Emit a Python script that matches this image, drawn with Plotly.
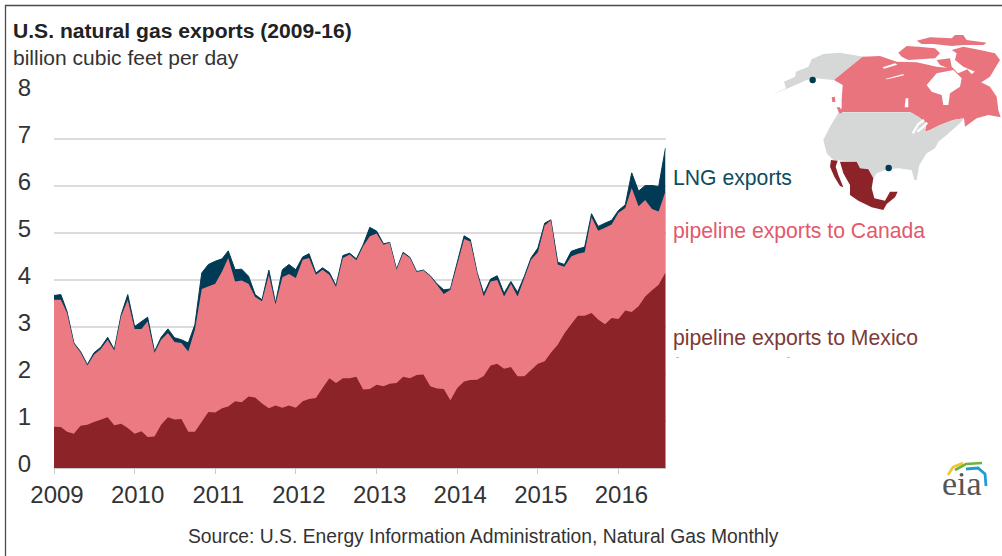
import pandas as pd
import plotly.graph_objects as go

W, H = 1002, 556
months = pd.date_range("2009-01-01", periods=92, freq="MS")
year_ticks = ["2009", "2010", "2011", "2012", "2013", "2014", "2015", "2016"]
y_ticks = [0, 1, 2, 3, 4, 5, 6, 7, 8]

# cumulative levels (billion cubic feet per day)
mexico = [0.88,0.87,0.77,0.73,0.90,0.92,0.98,1.03,1.08,0.91,0.94,0.85,
          0.73,0.78,0.66,0.67,0.92,1.08,1.03,1.04,0.77,0.77,0.99,1.19,
          1.18,1.27,1.31,1.42,1.40,1.52,1.50,1.37,1.27,1.33,1.28,1.33,
          1.28,1.42,1.47,1.49,1.70,1.91,1.81,1.91,1.91,1.94,1.67,1.68,
          1.77,1.74,1.79,1.81,1.94,1.91,1.98,1.99,1.74,1.69,1.68,1.44,
          1.70,1.84,1.87,1.88,1.96,2.18,2.22,2.11,2.15,1.95,1.95,2.08,
          2.22,2.27,2.45,2.62,2.86,3.06,3.24,3.24,3.30,3.16,3.06,3.19,
          3.17,3.35,3.32,3.44,3.65,3.78,3.90,4.16]
mexico_plus_canada = [3.58,3.58,3.30,2.65,2.46,2.18,2.41,2.53,2.73,2.50,3.23,3.58,
          2.96,2.96,3.12,2.45,2.73,2.87,2.68,2.66,2.48,2.94,3.81,3.87,
          3.92,4.18,4.47,3.97,3.99,3.92,3.64,3.55,4.11,3.48,4.06,4.13,
          4.04,4.43,4.47,4.11,4.22,4.11,3.85,4.47,4.54,4.42,4.72,4.93,
          4.99,4.75,4.79,4.22,4.57,4.47,4.17,4.20,4.08,3.90,3.70,3.79,
          4.36,4.87,4.82,4.15,3.65,3.97,4.00,3.65,3.92,3.65,4.04,4.43,
          4.59,5.16,5.27,4.33,4.28,4.50,4.56,4.59,5.34,5.05,5.11,5.18,
          5.43,5.53,5.96,5.57,5.70,5.51,5.46,5.89]
all_exports = [3.67,3.69,3.33,2.66,2.48,2.20,2.45,2.57,2.78,2.52,3.26,3.69,
          3.01,3.12,3.21,2.48,2.78,2.96,2.77,2.73,2.66,3.05,4.15,4.33,
          4.40,4.45,4.62,4.22,4.23,4.08,3.69,3.58,4.21,3.51,4.22,4.33,
          4.22,4.49,4.56,4.15,4.26,4.16,3.88,4.52,4.57,4.45,4.75,5.12,
          5.04,4.77,4.80,4.23,4.59,4.48,4.18,4.21,4.09,3.92,3.79,3.81,
          4.38,4.94,4.86,4.16,3.71,4.02,4.09,3.72,3.97,3.74,4.08,4.47,
          4.68,5.21,5.28,4.38,4.33,4.61,4.66,4.70,5.41,5.14,5.21,5.27,
          5.48,5.60,6.28,5.89,6.01,6.01,5.99,6.81]

LNG, PINK, RED = "#003b55", "#EC7A83", "#8C2329"
MAP_PINK, MAP_GREY = "#E9747E", "#D5D8D7"
FONT = "Liberation Sans"

fig = go.Figure()
for vals, col, name, lw in [(all_exports, LNG, "LNG exports", 1.0),
                            (mexico_plus_canada, PINK, "pipeline exports to Canada", 0),
                            (mexico, RED, "pipeline exports to Mexico", 0)]:
    fig.add_trace(go.Scatter(x=months, y=vals, name=name, mode="lines", fill="tozeroy",
                             fillcolor=col, line=dict(color=col, width=lw), hoverinfo="x+y"))

# ---- decorative map and logo, in reference pixels (zoomed crop coords)
def px(x, y):
    return x / W, 1 - y / H

def poly(pts, color, ox=660, oy=20, closed=True, lw=0, lc=None):
    d = ""
    for i, (zx, zy) in enumerate(pts):
        x, y = px(ox + zx / 3, oy + zy / 3)
        d += ("M" if i == 0 else "L") + f"{x:.5f},{y:.5f} "
    if closed:
        d += "Z"
    return dict(type="path", path=d, xref="paper", yref="paper", layer="above",
                fillcolor=color if closed else "rgba(0,0,0,0)",
                line=dict(width=lw, color=lc or color))

def dot(zx, zy, r=3.2):
    x, y = 660 + zx / 3, 20 + zy / 3
    x0, y0 = px(x - r, y + r)
    x1, y1 = px(x + r, y - r)
    return dict(type="circle", xref="paper", yref="paper", x0=x0, y0=y0, x1=x1, y1=y1,
                fillcolor=LNG, line=dict(width=0), layer="above")

alaska = [(335,225),(378,205),(372,185),(405,170),(408,155),(445,140),(455,118),(490,102),(540,98),
          (610,110),(522,180),(495,178),(470,175),(440,180),(400,198)]
canada = [(522,180),(608,110),(660,108),(710,125),(770,127),(830,140),(875,145),(895,160),(922,148),
          (950,180),(990,200),(1010,230),(1015,270),(1022,292),(985,285),(950,295),(915,320),(912,295),
          (880,300),(840,315),(810,330),(795,335),(800,310),(775,290),(750,276),(535,276),(545,265),
          (545,240),(548,195)]
island_a = [(715,98),(740,78),(775,80),(825,85),(840,100),(825,115),(780,118),(745,120),(725,110)]
island_b = [(770,62),(810,52),(875,55),(885,45),(910,45),(920,60),(980,68),(970,75),(910,75),(875,78),(820,72),(785,72)]
island_c = [(875,90),(910,80),(960,90),(1005,100),(1020,120),(1005,145),(990,170),(960,190),(930,165),(945,155),(910,140),(885,120),(890,100)]
island_d = [(830,120),(870,115),(875,140),(890,155),(840,135)]
hudson = [(800,195),(830,160),(880,150),(905,175),(900,200),(870,220),(865,255),(850,255),(845,225),(815,215)]
usa = [(536,277),(750,277),(775,290),(798,310),(795,335),(810,330),(840,315),(880,300),(912,295),(900,310),
       (860,345),(835,365),(825,385),(800,400),(778,435),(770,480),(763,480),(755,450),(715,445),(680,448),
       (650,460),(640,475),(625,448),(600,445),(590,425),(520,420),(500,400),(490,360),(510,320)]
baja = [(513,420),(533,422),(527,440),(535,465),(550,502),(540,498),(523,470),(510,440)]
mex = [(540,425),(590,425),(600,445),(625,448),(640,475),(635,505),(643,535),(675,542),(690,515),(713,515),
       (705,532),(680,552),(670,570),(635,562),(595,542),(570,525),(570,495),(550,460)]

shapes = [poly(alaska, MAP_GREY), poly(island_a, MAP_PINK), poly(island_b, MAP_PINK), poly(island_c, MAP_PINK),
          poly(island_d, MAP_PINK), poly(canada, MAP_PINK), poly(usa, MAP_GREY),
          poly(hudson, "white"), poly(baja, RED), poly(mex, RED),
          poly([(515,232),(525,230),(526,246),(517,246)], MAP_PINK),
          poly([(530,262),(540,262),(547,280),(538,280)], MAP_PINK),
          poly([(668,142),(705,130),(712,134),(672,146)], "white"),
          poly([(675,177),(730,162),(732,166),(682,178)], "white"),
          poly([(737,235),(745,235),(745,262),(734,262)], "white"),
          dot(458, 180), dot(686, 444)]
for pts in ([(758,340),(775,312),(792,300)], [(772,335),(790,320),(802,308)]):
    shapes.append(poly(pts, "white", closed=False, lw=2.2))

# frame, clipped-text remnants and the logo arcs
def pline(points, color, lw):
    d = ""
    for i, (x, y) in enumerate(points):
        fx, fy = px(x, y)
        d += ("M" if i == 0 else "L") + f"{fx:.5f},{fy:.5f} "
    return dict(type="path", path=d, xref="paper", yref="paper", layer="above",
                line=dict(color=color, width=lw), fillcolor="rgba(0,0,0,0)")

shapes += [pline([(5.5, 556), (5.5, 5.5), (1002, 5.5)], "#4a4a4a", 1.3),
           pline([(676, 357.5), (679, 357.5)], "#c9b9b8", 1),
           pline([(787, 357.5), (790, 357.5)], "#c9b9b8", 1),
           pline([(948, 475), (953, 467), (963, 463)], "#F2C531", 2.6),
           pline([(955, 470), (966, 464), (982, 463)], "#6FB33F", 2.6),
           pline([(966, 469), (978, 468), (985, 474), (986, 486)], "#1F9BD7", 2.8)]

def note(text, x, y, size, color, bold=False, anchor="left", family=FONT):
    fx, fy = px(x, y)
    return dict(text=f"<b>{text}</b>" if bold else text, x=fx, y=fy, xref="paper", yref="paper",
                xanchor=anchor, yanchor="middle", showarrow=False, align="left",
                font=dict(family=family, size=size, color=color))

annotations = [
    note("U.S. natural gas exports (2009-16)", 11, 30, 21.1, "#222222", bold=True),
    note("billion cubic feet per day", 11, 57, 21, "#333333"),
    note("LNG exports", 671, 178, 21.2, "#0E4C61"),
    note("pipeline exports to Canada", 671, 231, 21.2, "#E2596B"),
    note("pipeline exports to Mexico", 671, 338, 21.2, "#7D3A36"),
    note("Source: U.S. Energy Information Administration, Natural Gas Monthly", 186, 536, 19.3, "#333333"),
    note("eia", 962, 483, 34, "#555555", anchor="center", family="Liberation Serif"),
]

fig.update_layout(
    width=W, height=H, margin=dict(l=0, r=0, t=0, b=0), autosize=False,
    paper_bgcolor="white", plot_bgcolor="white", showlegend=False,
    font=dict(family=FONT, color="#333333"),
    shapes=shapes, annotations=annotations,
    xaxis=dict(domain=[54 / W, 665.5 / W], type="date", range=[months[0], months[-1]], automargin=False,
               tickmode="array", tickvals=[f"{y}-01-01" for y in year_ticks], ticktext=year_ticks,
               tickfont=dict(size=24, color="#333333"), ticks="outside", ticklen=5, tickcolor="#c9c9c9",
               ticklabelshift=3,
               showgrid=False, showline=True, linecolor="#c9c9c9", linewidth=1, zeroline=False),
    yaxis=dict(domain=[1 - 468 / H, 1 - 92 / H], range=[0, 8], tickmode="array", tickvals=y_ticks, automargin=False,
               tickfont=dict(size=24, color="#333333"), ticks="outside", ticklen=17, ticklabelshift=-4,
               tickcolor="rgba(0,0,0,0)", showgrid=True, gridcolor="#dcdcdc", gridwidth=1.5,
               zeroline=False, showline=False),
)

fig.write_html("out.html", config=dict(displayModeBar=False),
               post_script="document.body.style.margin='0';document.body.style.overflow='hidden';")
